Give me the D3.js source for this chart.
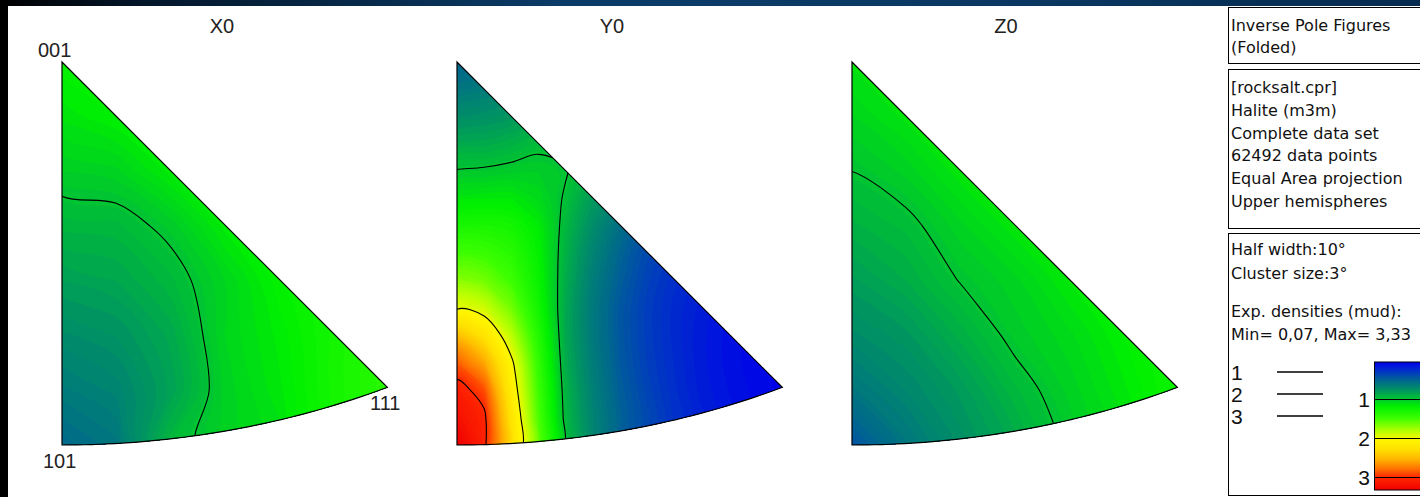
<!DOCTYPE html>
<html>
<head>
<meta charset="utf-8">
<script src="https://cdn.jsdelivr.net/npm/d3@7"></script>
<style>
  html, body { margin: 0; padding: 0; background: #fff; }
  svg { display: block; }
</style>
</head>
<body>
<div id="chart"></div>
<script>
// ---- data ----
const figureTitles = ['X0', 'Y0', 'Z0'];
const poleLabels = ['001', '101', '111'];

// Exp. densities (mud): rows run from the 001 apex down to 101,
// columns from the 001-101 edge across to the 111 corner (evenly spaced)
const densityX0 = [
  [1.22, 1.25, 1.28, 1.30, 1.32, 1.33, 1.35],
  [1.15, 1.20, 1.25, 1.28, 1.30, 1.33, 1.35],
  [1.05, 1.07, 1.18, 1.25, 1.29, 1.33, 1.36],
  [0.94, 0.95, 1.03, 1.18, 1.26, 1.32, 1.37],
  [0.84, 0.87, 0.95, 1.08, 1.22, 1.30, 1.38],
  [0.74, 0.78, 0.88, 1.08, 1.18, 1.30, 1.40],
  [0.65, 0.70, 0.85, 1.06, 1.16, 1.30, 1.40],
  [0.55, 0.62, 0.95, 1.06, 1.12, 1.28, 1.40]
];

const densityY0 = [
  [0.52, 0.55, 0.60, 0.65, 0.70, 0.70, 0.65, 0.60, 0.55, 0.50, 0.45, 0.40, 0.35],
  [0.62, 0.65, 0.70, 0.75, 0.78, 0.75, 0.70, 0.62, 0.55, 0.50, 0.45, 0.40, 0.35],
  [0.75, 0.77, 0.80, 0.85, 0.88, 0.82, 0.74, 0.65, 0.57, 0.50, 0.45, 0.40, 0.35],
  [0.88, 0.89, 0.92, 0.97, 0.97, 0.88, 0.76, 0.66, 0.57, 0.50, 0.44, 0.38, 0.33],
  [1.01, 1.02, 1.04, 1.05, 1.01, 0.90, 0.76, 0.64, 0.55, 0.47, 0.40, 0.34, 0.29],
  [1.15, 1.17, 1.17, 1.10, 0.985, 0.82, 0.68, 0.56, 0.47, 0.40, 0.34, 0.28, 0.24],
  [1.32, 1.33, 1.30, 1.18, 0.95, 0.75, 0.58, 0.46, 0.38, 0.31, 0.26, 0.21, 0.17],
  [1.50, 1.48, 1.40, 1.22, 0.92, 0.70, 0.53, 0.40, 0.32, 0.25, 0.20, 0.16, 0.13],
  [1.70, 1.65, 1.50, 1.25, 0.90, 0.66, 0.50, 0.37, 0.28, 0.22, 0.17, 0.13, 0.10],
  [1.98, 1.90, 1.65, 1.30, 0.88, 0.64, 0.47, 0.35, 0.26, 0.20, 0.15, 0.11, 0.09],
  [2.50, 2.25, 1.85, 1.38, 0.88, 0.64, 0.47, 0.35, 0.26, 0.19, 0.14, 0.10, 0.08],
  [2.85, 2.60, 2.05, 1.45, 0.90, 0.66, 0.48, 0.36, 0.27, 0.19, 0.14, 0.10, 0.08],
  [3.10, 2.90, 2.15, 1.50, 0.93, 0.68, 0.50, 0.38, 0.28, 0.20, 0.15, 0.11, 0.08],
  [3.20, 3.05, 2.25, 1.55, 0.95, 0.70, 0.52, 0.40, 0.30, 0.22, 0.16, 0.12, 0.09],
  [3.33, 3.05, 2.30, 1.60, 0.97, 0.70, 0.50, 0.38, 0.30, 0.22, 0.16, 0.12, 0.08]
];

const densityZ0 = [
  [1.15, 1.20, 1.25, 1.28, 1.30, 1.32, 1.33],
  [1.08, 1.15, 1.22, 1.26, 1.28, 1.30, 1.32],
  [1.00, 1.06, 1.16, 1.22, 1.26, 1.29, 1.31],
  [0.92, 0.97, 1.07, 1.16, 1.22, 1.27, 1.30],
  [0.83, 0.90, 1.005, 1.07, 1.17, 1.24, 1.29],
  [0.74, 0.80, 0.91, 1.03, 1.10, 1.20, 1.28],
  [0.62, 0.72, 0.82, 0.95, 1.06, 1.16, 1.27],
  [0.45, 0.62, 0.76, 0.88, 1.02, 1.12, 1.25]
];

const contourLevels = [1, 2, 3];
const densityMin = 0.07, densityMax = 3.33;
const colorStops = [0.07, 0.3, 0.55, 0.8, 1.0, 1.2, 1.5, 1.85, 2.05, 2.3, 2.55, 2.8, 3.0, 3.33];
const colorValues = ['#0000eb', '#0032c8', '#00698c', '#00965f', '#00c332', '#00f000',
                     '#3cff00', '#beff00', '#fff500', '#ffe000', '#ffb400', '#ff6e00',
                     '#ff2800', '#f00000'];

const headerLines = ['Inverse Pole Figures', '(Folded)'];
const datasetLines = ['[rocksalt.cpr]', 'Halite (m3m)', 'Complete data set',
                      '62492 data points', 'Equal Area projection', 'Upper hemispheres'];
const settingsLines = ['Half width:10°', 'Cluster size:3°'];
const densityLines = ['Exp. densities (mud):', 'Min= 0,07, Max= 3,33'];

// ---- layout ----
const width = 1420, height = 497;
const apexX = [62, 457, 852], apexY = 62;
const titleX = [222, 612, 1006];
const triH = 383;
const grids = [densityX0, densityY0, densityZ0];

const svg = d3.select('#chart').append('svg')
  .attr('width', width)
  .attr('height', height)
  .style('font-family', "'Liberation Sans', Arial, sans-serif");

const defs = svg.append('defs');

// window frame: dark blue band on top, black strip at the left
const band = defs.append('linearGradient').attr('id', 'band');
band.selectAll('stop')
  .data([[0, '#000000'], [0.1, '#03162a'], [0.4, '#0b3c68'], [0.7, '#0a3862'], [1, '#062b50']])
  .join('stop')
  .attr('offset', d => d[0])
  .attr('stop-color', d => d[1]);
svg.append('rect').attr('width', width).attr('height', 6).attr('fill', 'url(#band)');
svg.append('rect').attr('width', 8).attr('height', height).attr('fill', '#000');

const color = d3.scaleLinear().domain(colorStops).range(colorValues).clamp(true);

// equal area projection of the standard triangle, 001 at the apex
const projScale = triH / (2 * Math.sin(Math.PI / 8));
function project(phi, theta) {
  const r = projScale * 2 * Math.sin(theta / 2);
  return [r * Math.sin(phi), r * Math.cos(phi)];
}
const theta111 = Math.acos(1 / Math.sqrt(3));
const triW = project(Math.PI / 4, theta111)[0];

const outline = [[0, 0]];
d3.range(0, 41).forEach(k => {
  const phi = (Math.PI / 4) * k / 40;
  outline.push(project(phi, Math.atan(1 / Math.cos(phi))));
});
const outlinePath = d3.line()(outline) + 'Z';

const fillThresholds = d3.range(0, 3.36, 0.03);
const smoothRing = d3.line().curve(d3.curveCatmullRomClosed.alpha(0.5));

grids.forEach((grid, i) => {
  const m = grid.length, n = grid[0].length;
  const values = grid.flat();
  const xs = d3.scaleLinear().domain([0, n - 1]).range([0, triW]);
  const ys = d3.scaleLinear().domain([0, m - 1]).range([0, triH]);
  // contour rings come in grid units (sample k sits at k + 0.5)
  const contourPath = c => c.coordinates
    .map(poly => poly
      .map(ring => smoothRing(ring.slice(0, -1).map(([x, y]) => [xs(x - 0.5), ys(y - 0.5)])))
      .join(''))
    .join('');

  const g = svg.append('g').attr('transform', `translate(${apexX[i]},${apexY})`);

  defs.append('clipPath').attr('id', `clip-${i}`)
    .append('path').attr('d', outlinePath);

  const body = g.append('g').attr('clip-path', `url(#clip-${i})`);

  // colour bands
  body.append('g').selectAll('path')
    .data(d3.contours().size([n, m]).thresholds(fillThresholds)(values))
    .join('path')
    .attr('d', contourPath)
    .attr('fill', d => color(d.value + 0.015));

  // iso-density lines 1, 2, 3
  body.append('g').selectAll('path')
    .data(d3.contours().size([n, m]).thresholds(contourLevels)(values))
    .join('path')
    .attr('d', contourPath)
    .attr('fill', 'none')
    .attr('stroke', '#000')
    .attr('stroke-width', 1.1);

  g.append('path')
    .attr('d', outlinePath)
    .attr('fill', 'none')
    .attr('stroke', '#000')
    .attr('stroke-width', 1.2);

  g.append('text')
    .attr('x', titleX[i] - apexX[i])
    .attr('y', -29)
    .attr('text-anchor', 'middle')
    .attr('font-size', 20)
    .attr('fill', '#222')
    .text(figureTitles[i]);

  if (i === 0) {
    const labelPos = [[-24, -5], [-19, 406], [308, 348]];
    g.selectAll('.pole')
      .data(poleLabels)
      .join('text')
      .attr('class', 'pole')
      .attr('x', (d, k) => labelPos[k][0])
      .attr('y', (d, k) => labelPos[k][1])
      .attr('font-size', 20)
      .attr('fill', '#222')
      .text(d => d);
  }
});

// ---- legend ----
const legend = svg.append('g').style('font-family', "'DejaVu Sans', sans-serif").attr('font-size', 16);
const boxes = [[7.5, 56], [69.5, 159], [233.5, 262]];
legend.selectAll('rect.box')
  .data(boxes)
  .join('rect')
  .attr('class', 'box')
  .attr('x', 1228.5)
  .attr('y', d => d[0])
  .attr('width', 300)
  .attr('height', d => d[1])
  .attr('fill', '#fff')
  .attr('stroke', '#000');

function textBlock(lines, baselines) {
  legend.append('g').selectAll('text')
    .data(lines)
    .join('text')
    .attr('x', 1231)
    .attr('y', (d, k) => baselines[k])
    .attr('fill', '#111')
    .text(d => d);
}
textBlock(headerLines, [31, 53]);
textBlock(datasetLines, datasetLines.map((d, k) => 93 + k * 22.8));
textBlock(settingsLines, [255, 279]);
textBlock(densityLines, [317, 340]);

// iso line key
const keyY = d3.scalePoint().domain(contourLevels).range([372, 416]);
const key = legend.append('g').selectAll('g')
  .data(contourLevels)
  .join('g');
key.append('text')
  .attr('x', 1231)
  .attr('y', d => keyY(d) + 8)
  .attr('font-size', 21)
  .style('font-family', "'Liberation Sans', Arial, sans-serif")
  .attr('fill', '#111')
  .text(d => d);
key.append('line')
  .attr('x1', 1277).attr('x2', 1323)
  .attr('y1', d => keyY(d)).attr('y2', d => keyY(d))
  .attr('stroke', '#000')
  .attr('stroke-width', 1.6);

// colour bar
const barScale = d3.scaleLinear().domain([densityMin, densityMax]).range([362, 490]);
const barGrad = defs.append('linearGradient')
  .attr('id', 'bar')
  .attr('gradientUnits', 'userSpaceOnUse')
  .attr('x1', 0).attr('x2', 0)
  .attr('y1', barScale(densityMin)).attr('y2', barScale(densityMax));
barGrad.selectAll('stop')
  .data(colorStops)
  .join('stop')
  .attr('offset', d => (barScale(d) - barScale(densityMin)) / (barScale(densityMax) - barScale(densityMin)))
  .attr('stop-color', (d, k) => colorValues[k]);

legend.append('rect')
  .attr('x', 1374.5)
  .attr('y', barScale(densityMin))
  .attr('width', 100)
  .attr('height', barScale(densityMax) - barScale(densityMin))
  .attr('fill', 'url(#bar)')
  .attr('stroke', '#000');

legend.append('g').selectAll('line')
  .data(contourLevels)
  .join('line')
  .attr('x1', 1374).attr('x2', 1420)
  .attr('y1', d => Math.round(barScale(d)) + 0.5)
  .attr('y2', d => Math.round(barScale(d)) + 0.5)
  .attr('stroke', '#000')
  .attr('stroke-width', 1.2);

legend.append('g').selectAll('text')
  .data(contourLevels)
  .join('text')
  .attr('x', 1370)
  .attr('y', d => barScale(d) + 8)
  .attr('text-anchor', 'end')
  .attr('font-size', 21)
  .style('font-family', "'Liberation Sans', Arial, sans-serif")
  .attr('fill', '#111')
  .text(d => d);
</script>
</body>
</html>
